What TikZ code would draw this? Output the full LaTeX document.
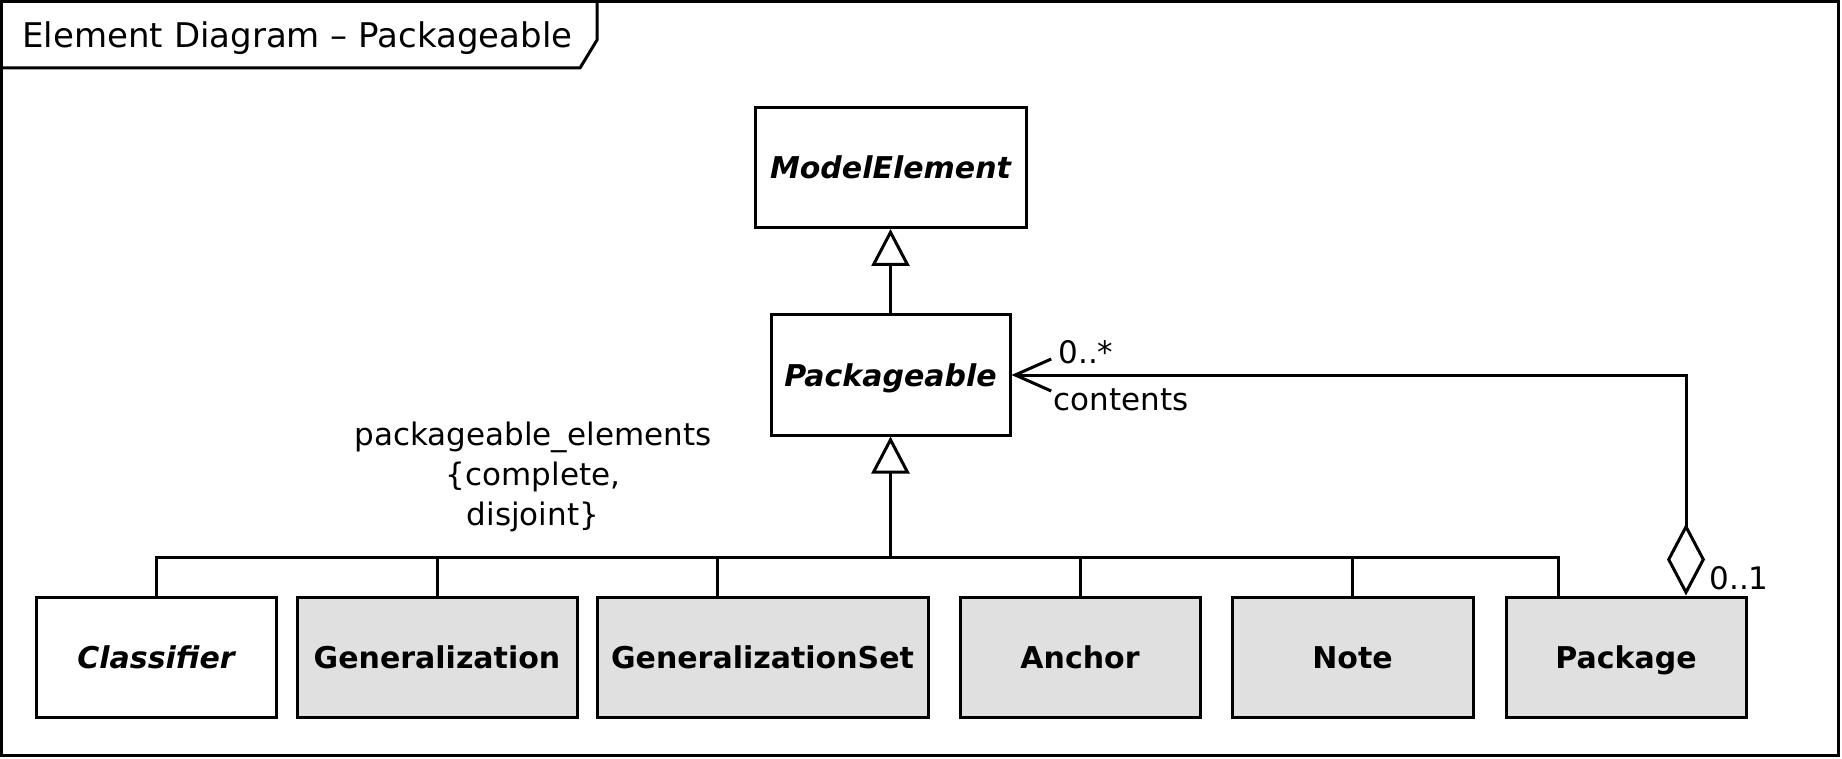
\documentclass[tikz,border=0pt]{standalone}
\usepackage{fontspec}
\setmainfont{DejaVu Sans}
\usetikzlibrary{arrows.meta}
\definecolor{umlgray}{HTML}{E0E0E0}
\begin{document}
\begin{tikzpicture}[x=1pt,y=-1pt,line width=3pt,
  clsbox/.style={draw, minimum height=120pt, inner sep=0pt, text height=22pt, text depth=0pt,
    font=\fontsize{30}{36}\selectfont\bfseries},
  absbox/.style={clsbox, fill=white, font=\fontsize{30}{36}\selectfont\bfseries\itshape},
  concbox/.style={clsbox, fill=umlgray},
  lbl/.style={font=\fontsize{31}{40}\selectfont, inner sep=0pt},
  genarrow/.style={-{Triangle[open,length=37pt,width=38pt]}},
  assocarrow/.style={{Diamond[open,length=72pt,width=38pt]}-{Straight Barb[length=36pt,width=32pt]}}
]
\useasboundingbox (0,0) rectangle (1842,759);
% frame
\draw (1.5,1.5) rectangle (1838,755);
\draw (1.5,68) -- (580,68) -- (597,40) -- (597,1.5);
\node[anchor=base west, inner sep=0pt, font=\fontsize{34}{40}\selectfont] (title) at (21,48) {Element Diagram – Packageable};
% classes
\node[absbox, minimum width=271pt] (me) at (890.5,167.5) {ModelElement};
\node[absbox, minimum width=239pt] (pk) at (890.5,375) {Packageable};
\node[absbox, minimum width=240pt] (cl) at (156,657) {Classifier};
\node[concbox, minimum width=280pt] (ge) at (437,657) {Generalization};
\node[concbox, minimum width=331pt] (gs) at (762.5,657) {GeneralizationSet};
\node[concbox, minimum width=240pt] (an) at (1080,657) {Anchor};
\node[concbox, minimum width=241pt] (no) at (1352.5,657) {Note};
\node[concbox, minimum width=240pt] (pa) at (1626,657) {Package};
% generalization set
\coordinate (bus) at (890.5,557);
\draw (cl.north) |- (bus);
\draw (ge.north) |- (bus);
\draw ([xshift=-45.5pt]gs.north) |- (bus);
\draw (an.north) |- (bus);
\draw (no.north) |- (bus);
\draw ([xshift=-68pt]pa.north) |- (bus);
\draw[genarrow] (bus) -- (pk.south);
\draw[genarrow] (pk.north) -- (me.south);
\node[lbl, align=center] (gsname) at (533,477) {packageable\_elements\\\{complete,\\disjoint\}};
% association
\draw[assocarrow] ([xshift=60pt]pa.north) |- (pk.east);
\node[lbl, anchor=base west] (mult1) at (1057,363) {0..*};
\node[lbl, anchor=base west] (role) at (1052,410) {contents};
\node[lbl, anchor=base west] (mult2) at (1708,589) {0..1};
\end{tikzpicture}
\end{document}
